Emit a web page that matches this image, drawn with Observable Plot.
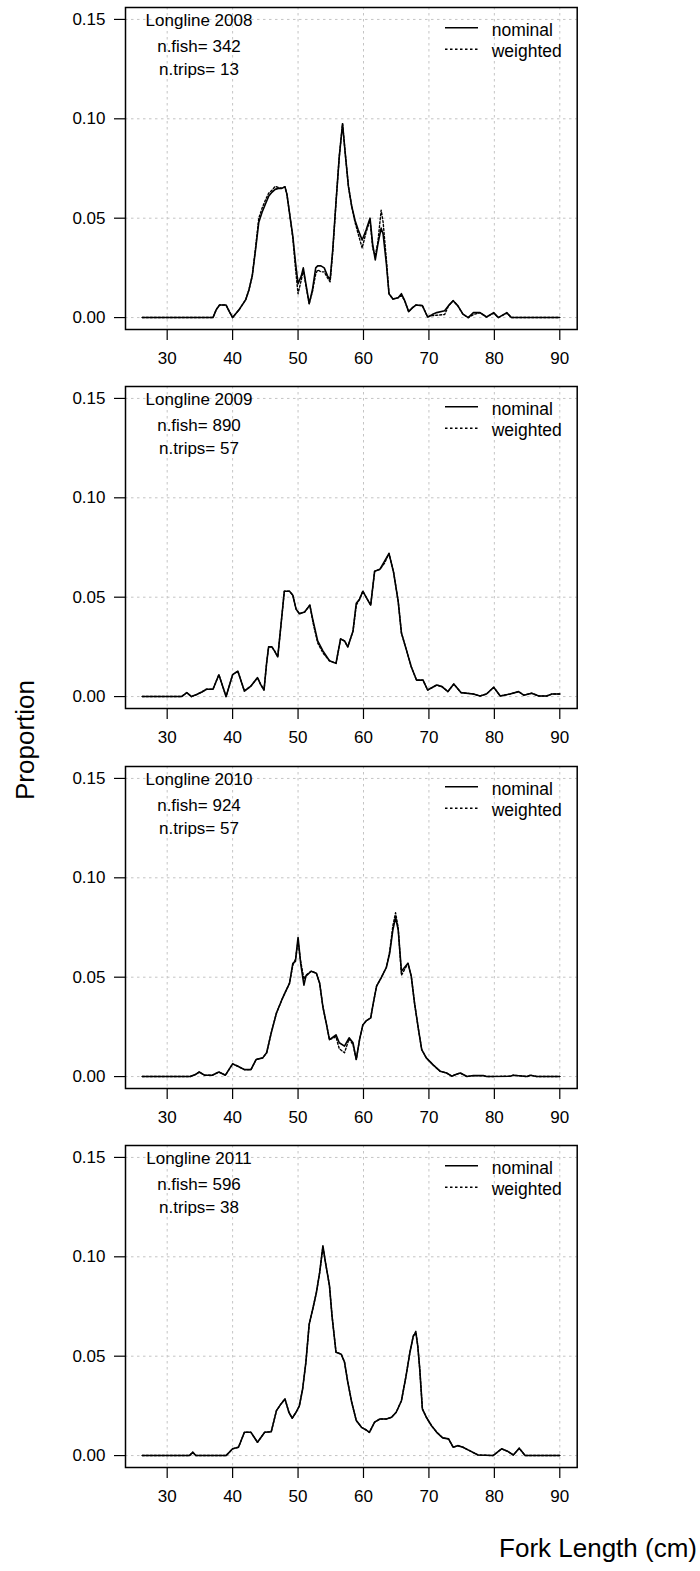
<!DOCTYPE html>
<html>
<head>
<meta charset="utf-8">
<script src="https://cdn.jsdelivr.net/npm/d3@7"></script>
<script src="https://cdn.jsdelivr.net/npm/@observablehq/plot@0.6"></script>
<style>
  body { margin: 0; background: #fff; }
  #wrap { position: relative; width: 700px; height: 1571px; font-family: "Liberation Sans", Arial, sans-serif; }
  .panel { position: absolute; left: 0; }
  #titles { position: absolute; left: 0; top: 0; pointer-events: none; }
</style>
</head>
<body>
<div id="wrap"></div>
<script>
// ---------------- data ----------------
const years = ["2008", "2009", "2010", "2011"];
const nFish = [342, 890, 924, 596];
const nTrips = [13, 57, 57, 38];
const xTicks = [30, 40, 50, 60, 70, 80, 90];
const yTicks = [0, 0.05, 0.10, 0.15];
const seriesNames = ["nominal", "weighted"];

const len2008 = [26.2, 37, 37.5, 38, 39, 39.5, 40, 40.5, 41, 41.5, 42, 42.5, 43, 43.5, 44, 44.5, 45, 45.5, 46, 46.5, 47, 47.5, 48, 48.3, 48.7, 49.2, 49.6, 50, 50.5, 50.8, 51.2, 51.7, 52.2, 52.7, 53, 53.5, 54, 54.5, 54.9, 55.3, 55.8, 56.3, 56.8, 57.2, 57.7, 58.2, 58.7, 59.2, 59.8, 60.4, 61, 61.4, 61.8, 62.2, 62.7, 63, 63.5, 63.9, 64.5, 65.3, 65.8, 66.3, 66.9, 67.5, 68, 69, 69.8, 70.5, 71.2, 72.4, 73, 73.7, 74.4, 75.2, 76, 76.8, 77.8, 78.8, 79.9, 80.6, 81.9, 82.6, 90];
const nom2008 = [0, 0, 0.004, 0.0063, 0.0063, 0.003, 0, 0.002, 0.004, 0.0065, 0.009, 0.014, 0.021, 0.034, 0.048, 0.053, 0.057, 0.061, 0.063, 0.0645, 0.065, 0.065, 0.0658, 0.062, 0.0525, 0.041, 0.028, 0.017, 0.021, 0.025, 0.017, 0.007, 0.014, 0.025, 0.026, 0.026, 0.025, 0.021, 0.019, 0.034, 0.058, 0.081, 0.0975, 0.083, 0.066, 0.056, 0.049, 0.044, 0.039, 0.044, 0.050, 0.037, 0.029, 0.037, 0.045, 0.042, 0.027, 0.012, 0.0093, 0.010, 0.012, 0.0085, 0.003, 0.005, 0.0063, 0.006, 0.0003, 0.0015, 0.0025, 0.0034, 0.006, 0.0085, 0.006, 0.0017, 0, 0.0025, 0.0025, 0.0003, 0.0025, 0, 0.0025, 0, 0];
const wtd2008 = [0, 0, 0.004, 0.0063, 0.0063, 0.003, 0, 0.002, 0.004, 0.0065, 0.009, 0.014, 0.021, 0.035, 0.050, 0.055, 0.059, 0.0625, 0.064, 0.066, 0.0655, 0.065, 0.0658, 0.062, 0.0525, 0.040, 0.025, 0.012, 0.019, 0.024, 0.016, 0.007, 0.013, 0.022, 0.024, 0.023, 0.023, 0.020, 0.018, 0.033, 0.058, 0.081, 0.0975, 0.083, 0.066, 0.056, 0.048, 0.042, 0.035, 0.043, 0.049, 0.035, 0.031, 0.038, 0.054, 0.048, 0.029, 0.012, 0.0093, 0.010, 0.011, 0.0085, 0.003, 0.005, 0.0063, 0.006, 0.0003, 0.001, 0.0012, 0.0015, 0.006, 0.0085, 0.006, 0.0017, 0, 0.0015, 0.0025, 0.0003, 0.0022, 0, 0.0022, 0, 0];

const len2009 = [26.2, 32.2, 33, 33.7, 34.5, 35.3, 36, 37, 37.9, 39, 40, 40.8, 41.8, 42.8, 43.8, 44.3, 44.8, 45.2, 45.5, 46, 46.4, 46.9, 47.3, 47.9, 48.7, 49.2, 49.7, 50.2, 51, 51.8, 52.3, 53, 53.8, 54.8, 55.8, 56.5, 57.1, 57.6, 58.4, 58.9, 59.4, 59.9, 60.4, 61.1, 61.7, 62.5, 63.2, 63.9, 64.6, 65.3, 65.8, 66.6, 67.3, 68.1, 69.1, 69.8, 71.2, 72, 72.9, 73.8, 74.9, 76.8, 77.8, 78.8, 79.9, 80.9, 82.4, 83.7, 84.5, 85.7, 86.8, 88, 88.8, 90];
const nom2009 = [0, 0, 0.002, 0, 0.001, 0.0023, 0.0037, 0.0037, 0.011, 0, 0.011, 0.0128, 0.0028, 0.0053, 0.0095, 0.006, 0.0033, 0.017, 0.025, 0.025, 0.023, 0.020, 0.033, 0.053, 0.053, 0.051, 0.044, 0.0417, 0.0425, 0.046, 0.038, 0.028, 0.023, 0.018, 0.0167, 0.029, 0.028, 0.025, 0.033, 0.047, 0.049, 0.053, 0.050, 0.046, 0.063, 0.064, 0.068, 0.072, 0.0625, 0.048, 0.032, 0.023, 0.015, 0.0083, 0.0083, 0.0033, 0.0058, 0.005, 0.0025, 0.0063, 0.002, 0.0013, 0.0003, 0.0013, 0.0047, 0.0003, 0.0013, 0.0025, 0.0007, 0.0017, 0.0003, 0.0003, 0.0013, 0.0013];
const wtd2009 = [0, 0, 0.002, 0, 0.001, 0.0023, 0.0037, 0.0037, 0.011, 0, 0.011, 0.0128, 0.0028, 0.0053, 0.0095, 0.006, 0.0033, 0.017, 0.025, 0.025, 0.023, 0.020, 0.033, 0.053, 0.053, 0.051, 0.044, 0.0417, 0.0425, 0.046, 0.037, 0.027, 0.022, 0.018, 0.0167, 0.029, 0.028, 0.025, 0.033, 0.046, 0.049, 0.053, 0.050, 0.046, 0.063, 0.064, 0.067, 0.072, 0.0625, 0.048, 0.032, 0.023, 0.015, 0.0083, 0.0083, 0.0033, 0.0058, 0.005, 0.0025, 0.0063, 0.002, 0.0013, 0.0003, 0.0013, 0.0047, 0.0003, 0.0013, 0.0025, 0.0007, 0.0017, 0.0003, 0.0003, 0.0013, 0.0013];

const len2010 = [26.2, 33.5, 34.3, 34.9, 35.7, 36.9, 37.9, 38.9, 40, 40.8, 41.8, 42.8, 43.6, 44.6, 45.2, 45.9, 46.7, 47.7, 48.7, 49.2, 49.6, 50, 50.4, 50.9, 51.2, 52, 52.8, 53.3, 53.8, 54.3, 54.8, 55.8, 56.3, 57.1, 57.8, 58.4, 58.9, 59.4, 59.9, 60.4, 61.1, 61.5, 62, 62.7, 63.5, 64, 64.5, 64.9, 65.3, 65.8, 66.3, 66.8, 67.3, 67.8, 68.4, 68.9, 69.6, 70.6, 71.7, 72.7, 73.5, 74.2, 74.8, 75.8, 76.8, 78.3, 78.8, 82.4, 82.9, 85, 85.5, 86.5, 90];
const nom2010 = [0, 0, 0.001, 0.0023, 0.0007, 0.0007, 0.0023, 0.0007, 0.0064, 0.0052, 0.0035, 0.0035, 0.0086, 0.0094, 0.012, 0.022, 0.032, 0.040, 0.047, 0.057, 0.058, 0.070, 0.057, 0.046, 0.0505, 0.053, 0.052, 0.047, 0.035, 0.027, 0.0186, 0.021, 0.017, 0.0153, 0.0195, 0.017, 0.0086, 0.0186, 0.026, 0.028, 0.0295, 0.037, 0.0455, 0.0497, 0.055, 0.062, 0.074, 0.080, 0.074, 0.053, 0.055, 0.057, 0.0505, 0.037, 0.0237, 0.0136, 0.0094, 0.006, 0.0027, 0.0018, 0.0002, 0.0012, 0.0018, 0, 0.0005, 0.0005, 0, 0.0002, 0.0007, 0, 0.0007, 0, 0];
const wtd2010 = [0, 0, 0.001, 0.0023, 0.0007, 0.0007, 0.0023, 0.0007, 0.0064, 0.0052, 0.0035, 0.0035, 0.0086, 0.0094, 0.012, 0.022, 0.032, 0.040, 0.047, 0.056, 0.059, 0.068, 0.058, 0.049, 0.051, 0.053, 0.052, 0.047, 0.035, 0.027, 0.0186, 0.020, 0.014, 0.012, 0.019, 0.016, 0.0086, 0.0186, 0.026, 0.028, 0.0295, 0.037, 0.0455, 0.0497, 0.055, 0.063, 0.076, 0.0824, 0.075, 0.051, 0.054, 0.057, 0.0505, 0.037, 0.0237, 0.0136, 0.0094, 0.006, 0.0027, 0.0018, 0.0002, 0.0012, 0.0018, 0, 0.0005, 0.0005, 0, 0.0002, 0.0007, 0, 0.0007, 0, 0];

const len2011 = [26.2, 33.4, 33.9, 34.4, 39, 40, 40.9, 41.8, 42.8, 43.8, 44.9, 45.9, 46.7, 47.4, 48, 48.6, 49.1, 49.7, 50.2, 50.7, 51.2, 51.7, 52.3, 52.8, 53.3, 53.8, 54.2, 54.8, 55.2, 55.8, 56.6, 57.1, 57.6, 58.2, 58.9, 59.7, 60.4, 60.9, 61.7, 62.5, 63.5, 64.3, 65, 65.8, 66.5, 67.1, 67.6, 68, 68.3, 68.6, 69, 69.6, 70.4, 71.2, 72.1, 73, 73.7, 74.4, 75.2, 76.2, 77.5, 79.8, 81.1, 82.1, 82.9, 83.8, 84.7, 90];
const nom2011 = [0, 0, 0.0017, 0, 0, 0.0034, 0.0042, 0.0117, 0.0117, 0.0067, 0.0117, 0.012, 0.0226, 0.026, 0.0285, 0.0218, 0.0188, 0.0218, 0.025, 0.0335, 0.047, 0.066, 0.0745, 0.082, 0.092, 0.1055, 0.097, 0.0855, 0.070, 0.052, 0.051, 0.047, 0.037, 0.0268, 0.0176, 0.0142, 0.0129, 0.0117, 0.0168, 0.0184, 0.0184, 0.0193, 0.0218, 0.0276, 0.040, 0.052, 0.060, 0.062, 0.055, 0.0435, 0.0235, 0.0193, 0.015, 0.0117, 0.0089, 0.0084, 0.0042, 0.005, 0.0042, 0.0025, 0.0003, 0, 0.0034, 0.002, 0.0003, 0.0037, 0, 0];
const wtd2011 = [0, 0, 0.0017, 0, 0, 0.0034, 0.0042, 0.0117, 0.0117, 0.0067, 0.0117, 0.012, 0.0226, 0.026, 0.0285, 0.0218, 0.0188, 0.0218, 0.025, 0.0335, 0.047, 0.066, 0.0745, 0.082, 0.092, 0.1050, 0.097, 0.0855, 0.070, 0.052, 0.051, 0.047, 0.037, 0.0268, 0.0176, 0.0142, 0.0129, 0.0117, 0.0168, 0.0184, 0.0184, 0.0193, 0.0218, 0.0276, 0.040, 0.052, 0.060, 0.0625, 0.055, 0.0435, 0.0235, 0.0193, 0.015, 0.0117, 0.0089, 0.0084, 0.0042, 0.005, 0.0042, 0.0025, 0.0003, 0, 0.0034, 0.002, 0.0003, 0.0037, 0, 0];

const lens = [len2008, len2009, len2010, len2011];
const noms = [nom2008, nom2009, nom2010, nom2011];
const wtds = [wtd2008, wtd2009, wtd2010, wtd2011];

// ---------------- layout ----------------
const W = 700, H = 379, ML = 125, MR = 700 - 576.7, MT = 7, MB = 50;
const FONT = "'Liberation Sans', Arial, Helvetica, sans-serif";
const wrap = document.getElementById("wrap");
const lineDy = [13, 39, 62.5];

years.forEach((yr, i) => {
  const nomData = lens[i].map((l, j) => ({len: l, p: noms[i][j]}));
  const wtdData = lens[i].map((l, j) => ({len: l, p: wtds[i][j]}));
  const labels = [`Longline ${yr}`, `n.fish= ${nFish[i]}`, `n.trips= ${nTrips[i]}`];
  const textMarks = labels.map((s, k) => Plot.text([s], {
    text: d => d,
    frameAnchor: "top-left",
    dx: 73.5,
    dy: lineDy[k],
    textAnchor: "middle", lineAnchor: "middle",
    fontSize: 17, fill: "#000"
  }));
  const chart = Plot.plot({
    width: W, height: H,
    marginLeft: ML, marginRight: MR, marginTop: MT, marginBottom: MB,
    x: {domain: [23.63, 92.66]},
    y: {domain: [-0.006, 0.156]},
    style: {fontFamily: FONT, fontSize: "17px", color: "#000", background: "transparent", overflow: "visible"},
    marks: [
      Plot.gridX(xTicks, {stroke: "#c4c4c4", strokeOpacity: 1, strokeWidth: 1, strokeDasharray: "2.5,3.5"}),
      Plot.gridY(yTicks, {stroke: "#c4c4c4", strokeOpacity: 1, strokeWidth: 1, strokeDasharray: "2.5,3.5"}),
      Plot.axisX(xTicks, {tickSize: 11, tickPadding: 11, label: null, stroke: "#000", strokeWidth: 1.2}),
      Plot.axisY(yTicks, {tickSize: 11, tickPadding: 9, label: null, tickFormat: d3.format(".2f"), stroke: "#000", strokeWidth: 1.2}),
      Plot.line(wtdData, {x: "len", y: "p", stroke: "#000", strokeWidth: 1.4, strokeDasharray: "2,2"}),
      Plot.line(nomData, {x: "len", y: "p", stroke: "#000", strokeWidth: 1.6}),
      Plot.frame({stroke: "#000", strokeWidth: 1.5}),
      ...textMarks
    ]
  });
  const div = document.createElement("div");
  div.className = "panel";
  div.style.top = (i * 379.3) + "px";
  div.appendChild(chart);
  wrap.appendChild(div);

  // legend
  const svg = d3.select(chart);
  const lg = svg.append("g").attr("font-family", FONT).attr("font-size", 17.5).attr("text-anchor", "start");
  const top = MT;
  lg.append("line").attr("x1", 445).attr("x2", 478).attr("y1", top + 20.7).attr("y2", top + 20.7)
    .attr("stroke", "#000").attr("stroke-width", 1.6);
  lg.append("line").attr("x1", 445).attr("x2", 478).attr("y1", top + 42.3).attr("y2", top + 42.3)
    .attr("stroke", "#000").attr("stroke-width", 1.4).attr("stroke-dasharray", "2.5,2.5");
  lg.append("text").attr("x", 491.7).attr("y", top + 28.5).attr("fill", "#000").text(seriesNames[0]);
  lg.append("text").attr("x", 491.7).attr("y", top + 50).attr("fill", "#000").text(seriesNames[1]);
});

// axis titles
const t = d3.select(wrap).append("svg").attr("id", "titles").attr("width", 700).attr("height", 1571)
  .attr("font-family", FONT).attr("font-size", 26);
t.append("text").attr("transform", "translate(34,740) rotate(-90)").attr("text-anchor", "middle").text("Proportion");
t.append("text").attr("x", 697).attr("y", 1557).attr("text-anchor", "end").text("Fork Length (cm)");
</script>
</body>
</html>
